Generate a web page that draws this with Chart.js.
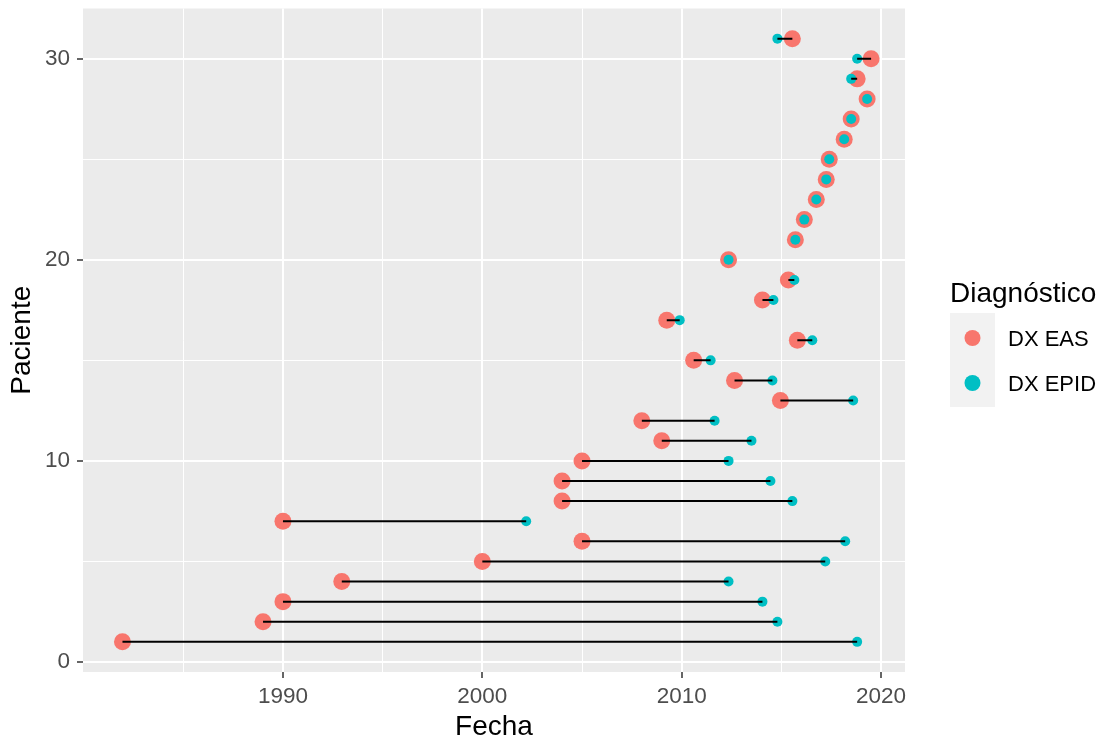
<!DOCTYPE html>
<html>
<head>
<meta charset="utf-8">
<script src="https://cdn.jsdelivr.net/npm/chart.js@4.4.1/dist/chart.umd.min.js"></script>
<style>
    html, body { margin: 0; padding: 0; background: #ffffff; }
    #wrap { width: 1107px; height: 744px; position: relative; }
</style>
</head>
<body>
<div id="wrap"><canvas id="chart"></canvas></div>
<script>
// Paciente 1..31, fecha de diagnóstico EAS y EPID (años decimales)
const pacientes = [1, 2, 3, 4, 5, 6, 7, 8, 9, 10, 11, 12, 13, 14, 15, 16, 17, 18, 19, 20, 21, 22, 23, 24, 25, 26, 27, 28, 29, 30, 31];
const dxEas = [1981.95, 1989.0, 1990.0, 1992.95, 2000.0, 2005.0, 1990.0, 2004.0, 2004.0, 2005.0,
    2009.0, 2008.0, 2014.95, 2012.65, 2010.6, 2015.8, 2009.25, 2014.05, 2015.35, 2012.35,
    2015.7, 2016.15, 2016.75, 2017.25, 2017.4, 2018.15, 2018.5, 2019.3, 2018.8, 2019.5, 2015.55];
const dxEpid = [2018.8, 2014.8, 2014.05, 2012.35, 2017.2, 2018.2, 2002.2, 2015.55, 2014.45, 2012.35,
    2013.5, 2011.65, 2018.6, 2014.55, 2011.45, 2016.55, 2009.9, 2014.6, 2015.65, 2012.35,
    2015.7, 2016.15, 2016.75, 2017.25, 2017.4, 2018.15, 2018.5, 2019.3, 2018.5, 2018.8, 2014.8];
const xTicks = [1985, 1990, 1995, 2000, 2005, 2010, 2015, 2020];
const yTicks = [0, 5, 10, 15, 20, 25, 30];
const legendLabels = ['DX EAS', 'DX EPID'];

const RED = '#F8766D';
const TEAL = '#00BFC4';
const FONT = '"Liberation Sans", Arial, sans-serif';

const segments = pacientes.map((p, i) => ({
    type: 'line',
    data: [{ x: dxEas[i], y: p }, { x: dxEpid[i], y: p }],
    borderColor: '#000000',
    borderWidth: 2,
    pointRadius: 0,
    order: 0,
}));

const panelBackground = {
    id: 'panelBackground',
    beforeDraw(chart) {
        const { ctx, chartArea } = chart;
        ctx.save();
        ctx.fillStyle = '#EBEBEB';
        ctx.fillRect(chartArea.left, chartArea.top, chartArea.right - chartArea.left, chartArea.bottom - chartArea.top);
        ctx.restore();
    },
};

const ggLegend = {
    id: 'ggLegend',
    afterDraw(chart) {
        const { ctx } = chart;
        ctx.save();
        ctx.fillStyle = '#000000';
        ctx.font = `28px ${FONT}`;
        ctx.textBaseline = 'alphabetic';
        ctx.fillText('Diagnóstico', 950, 302);
        ctx.fillStyle = '#F2F2F2';
        ctx.fillRect(950, 313, 45, 94);
        const colors = [RED, TEAL];
        legendLabels.forEach((label, i) => {
            const cy = 338 + i * 45;
            ctx.beginPath();
            ctx.arc(972.5, cy, 8, 0, Math.PI * 2);
            ctx.fillStyle = colors[i];
            ctx.fill();
            ctx.fillStyle = '#000000';
            ctx.font = `22px ${FONT}`;
            ctx.fillText(label, 1008, cy + 8);
        });
        ctx.restore();
    },
};

const gridWidth = (ctx) => ctx.tick && ctx.tick.value % 10 === 0 ? 2 : 1;
const tickMarkColor = (ctx) => ctx.tick && ctx.tick.value % 10 === 0 ? '#333333' : 'rgba(0,0,0,0)';

new Chart(document.getElementById('chart'), {
    type: 'scatter',
    data: {
        datasets: [
            ...segments,
            {
                label: legendLabels[1],
                data: pacientes.map((p, i) => ({ x: dxEpid[i], y: p })),
                backgroundColor: TEAL,
                borderWidth: 0,
                pointRadius: 5,
                order: 1,
            },
            {
                label: legendLabels[0],
                data: pacientes.map((p, i) => ({ x: dxEas[i], y: p })),
                backgroundColor: RED,
                borderWidth: 0,
                pointRadius: 8.5,
                order: 2,
            },
        ],
    },
    options: {
        responsive: true,
        maintainAspectRatio: false,
        animation: false,
        layout: {
            padding: { top: 8, right: 202, left: 0, bottom: 0 },
        },
        plugins: {
            legend: { display: false },
            tooltip: { enabled: false },
        },
        scales: {
            x: {
                type: 'linear',
                min: 1979.97,
                max: 2021.2,
                afterBuildTicks: (scale) => { scale.ticks = xTicks.map((v) => ({ value: v })); },
                afterFit: (scale) => {
                    scale.height = 72;
                    scale.paddingLeft = 0;
                    scale.paddingRight = 0;
                },
                border: { display: false },
                grid: {
                    color: '#FFFFFF',
                    lineWidth: gridWidth,
                    tickColor: tickMarkColor,
                    tickLength: 6,
                    tickWidth: 1.5,
                },
                ticks: {
                    color: '#4D4D4D',
                    font: { family: FONT, size: 22.5 },
                    padding: 5,
                    maxRotation: 0,
                    autoSkip: false,
                    callback: (v) => (v % 10 === 0 ? String(v) : ''),
                },
                title: {
                    display: true,
                    text: 'Fecha',
                    color: '#000000',
                    font: { family: FONT, size: 28 },
                    padding: { top: 0, bottom: 0 },
                },
            },
            y: {
                min: -0.5,
                max: 32.5,
                afterBuildTicks: (scale) => { scale.ticks = yTicks.map((v) => ({ value: v })); },
                afterFit: (scale) => {
                    scale.width = 83;
                    scale.paddingTop = 0;
                    scale.paddingBottom = 0;
                },
                border: { display: false },
                grid: {
                    color: '#FFFFFF',
                    lineWidth: gridWidth,
                    tickColor: tickMarkColor,
                    tickLength: 6,
                    tickWidth: 1.5,
                },
                ticks: {
                    color: '#4D4D4D',
                    font: { family: FONT, size: 22.5 },
                    padding: 7,
                    autoSkip: false,
                    callback: (v) => (v % 10 === 0 ? String(v) : ''),
                },
                title: {
                    display: true,
                    text: 'Paciente',
                    color: '#000000',
                    font: { family: FONT, size: 28 },
                    padding: { top: 5, bottom: 0 },
                },
            },
        },
    },
    plugins: [panelBackground, ggLegend],
});
</script>
</body>
</html>
